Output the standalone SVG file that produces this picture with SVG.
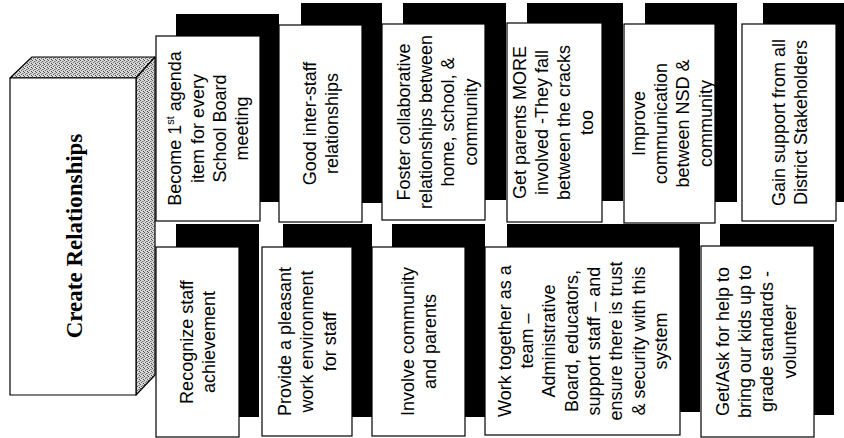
<svg xmlns="http://www.w3.org/2000/svg" width="844" height="438" viewBox="0 0 844 438">
<defs>
<pattern id="stip" width="4" height="4" patternUnits="userSpaceOnUse">
<rect width="4" height="4" fill="#d6d6d6"/>
<rect x="0" y="0" width="1" height="1" fill="#5a5a5a"/>
<rect x="2" y="1" width="1" height="1" fill="#7a7a7a"/>
<rect x="1" y="2" width="1" height="1" fill="#6a6a6a"/>
<rect x="3" y="3" width="1" height="1" fill="#4a4a4a"/>
<rect x="3" y="1" width="1" height="1" fill="#9a9a9a"/>
</pattern>
</defs>
<style>
.sh{fill:#000}
.cd{fill:#fff;stroke:#000;stroke-width:1.2}
.t{font-family:"Liberation Sans",Arial,sans-serif;font-size:18px;fill:#000;text-anchor:middle}
.bx{fill:#fff;stroke:#000;stroke-width:1.2;stroke-linejoin:round}
.sd{fill:url(#stip);stroke:#000;stroke-width:1.2;stroke-linejoin:round}
.ttl{font-family:"Liberation Serif","Times New Roman",serif;font-size:23px;font-weight:bold;fill:#000;text-anchor:middle}
</style>
<rect width="844" height="438" fill="#fff"/>

<g id="create-relationships">
<polygon class="sd" points="10,78 32,57 155,57 136,78"/>
<polygon class="sd" points="136,78 155,57 155,375 136,395"/>
<rect class="bx" x="10" y="78" width="126" height="317"/>
<text class="ttl" transform="translate(74,236) rotate(-90)" y="8">Create Relationships</text>
</g>

<g id="card1">
<rect class="sh" x="176" y="14" width="103" height="188"/>
<rect class="cd" x="156" y="36" width="104" height="185"/>
<g transform="translate(208.5,128.5) rotate(-90)">
<text class="t" y="-27.2">Become 1<tspan dy="-7" font-size="11">st</tspan><tspan dy="7"> agenda</tspan></text>
<text class="t" y="-4.9">item for every</text>
<text class="t" y="17.4">School Board</text>
<text class="t" y="39.7">meeting</text>
</g>
</g>

<g id="card2">
<rect class="sh" x="301" y="3" width="81" height="200"/>
<rect class="cd" x="279" y="25" width="83" height="197"/>
<g transform="translate(321,123.5) rotate(-90)">
<text class="t" y="-4.9">Good inter-staff</text>
<text class="t" y="17.4">relationships</text>
</g>
</g>

<g id="card3">
<rect class="sh" x="403" y="3" width="103" height="197"/>
<rect class="cd" x="382" y="24" width="103" height="196"/>
<g transform="translate(437,122) rotate(-90)">
<text class="t" y="-27.2">Foster collaborative</text>
<text class="t" y="-4.9">relationships between</text>
<text class="t" y="17.4">home, school, &amp;</text>
<text class="t" y="39.7">community</text>
</g>
</g>

<g id="card4">
<rect class="sh" x="527" y="3" width="96" height="198"/>
<rect class="cd" x="507" y="23" width="95" height="199"/>
<g transform="translate(553,122.5) rotate(-90)">
<text class="t" y="-27.2">Get parents MORE</text>
<text class="t" y="-4.9">involved -They fall</text>
<text class="t" y="17.4">between the cracks</text>
<text class="t" y="39.7">too</text>
</g>
</g>

<g id="card5">
<rect class="sh" x="645" y="3" width="92" height="199"/>
<rect class="cd" x="624" y="24" width="91" height="199"/>
<g transform="translate(672,123.5) rotate(-90)">
<text class="t" y="-27.2">Improve</text>
<text class="t" y="-4.9">communication</text>
<text class="t" y="17.4">between NSD &amp;</text>
<text class="t" y="39.7">community</text>
</g>
</g>

<g id="card6">
<rect class="sh" x="763" y="3" width="81" height="199"/>
<rect class="cd" x="742" y="24" width="94" height="197"/>
<g transform="translate(790,122.5) rotate(-90)">
<text class="t" y="-4.9">Gain support from all</text>
<text class="t" y="17.4">District Stakeholders</text>
</g>
</g>

<g id="card7">
<rect class="sh" x="176" y="224" width="83" height="193"/>
<rect class="cd" x="156" y="247" width="83" height="190"/>
<g transform="translate(198,342) rotate(-90)">
<text class="t" y="-4.9">Recognize staff</text>
<text class="t" y="17.4">achievement</text>
</g>
</g>

<g id="card8">
<rect class="sh" x="283" y="224" width="89" height="193"/>
<rect class="cd" x="262" y="247" width="90" height="189"/>
<g transform="translate(307,341.5) rotate(-90)">
<text class="t" y="-16">Provide a pleasant</text>
<text class="t" y="6.3">work environment</text>
<text class="t" y="28.6">for staff</text>
</g>
</g>

<g id="card9">
<rect class="sh" x="392" y="224" width="93" height="193"/>
<rect class="cd" x="372" y="247" width="93" height="189"/>
<g transform="translate(418.5,341.5) rotate(-90)">
<text class="t" y="-4.9">Involve community</text>
<text class="t" y="17.4">and parents</text>
</g>
</g>

<g id="card10">
<rect class="sh" x="507" y="224" width="193" height="188"/>
<rect class="cd" x="485" y="247" width="195" height="188"/>
<g transform="translate(582.5,341) rotate(-90)">
<text class="t" y="-71.7">Work together as a</text>
<text class="t" y="-49.4">team –</text>
<text class="t" y="-27.1">Administrative</text>
<text class="t" y="-4.8">Board, educators,</text>
<text class="t" y="17.5">support staff – and</text>
<text class="t" y="39.8">ensure there is trust</text>
<text class="t" y="62.1">&amp; security with this</text>
<text class="t" y="84.4">system</text>
</g>
</g>

<g id="card11">
<rect class="sh" x="720" y="224" width="114" height="191"/>
<rect class="cd" x="701" y="246" width="113" height="191"/>
<g transform="translate(756,341.5) rotate(-90)">
<text class="t" y="-27.2">Get/Ask for help to</text>
<text class="t" y="-4.9">bring our kids up to</text>
<text class="t" y="17.4">grade standards -</text>
<text class="t" y="39.7">volunteer</text>
</g>
</g>

<g id="connectors"></g>
</svg>
